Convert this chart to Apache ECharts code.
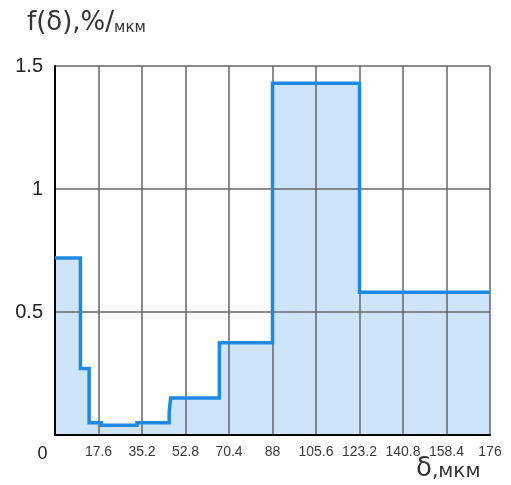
<!DOCTYPE html>
<html>
<head>
<meta charset="utf-8">
<script src="https://cdn.jsdelivr.net/npm/echarts@6/dist/echarts.min.js"></script>
<style>
html,body{margin:0;padding:0;background:#fff;}
#chart{width:511px;height:485px;}
</style>
</head>
<body>
<div id="chart"></div>
<script>
// Step edges (δ, мкм) and density values f(δ), %/мкм; last value repeated for the closing edge
const edges = [0, 10.3, 13.8, 18.8, 33.2, 46.2, 46.8, 66.5, 88, 123.2, 176];
const values = [0.72, 0.27, 0.05, 0.04, 0.05, 0.095, 0.15, 0.375, 1.43, 0.58, 0.58];
const xTickLabels = ['0', '17.6', '35.2', '52.8', '70.4', '88', '105.6', '123.2', '140.8', '158.4', '176'];
const yTickLabels = ['0', '0.5', '1', '1.5'];

const stepData = edges.map((e, i) => [e, values[i]]);

const chart = echarts.init(document.getElementById('chart'), null, {renderer: 'canvas'});
chart.setOption({
  animation: false,
  backgroundColor: '#fff',
  grid: {left: 55, right: 21, top: 66, bottom: 50, containLabel: false},
  xAxis: {
    type: 'value', min: 0, max: 176, interval: 17.6, z: 2,
    axisLine: {show: true, onZero: false, lineStyle: {color: '#000', width: 2}},
    axisTick: {show: false},
    splitLine: {show: true, lineStyle: {color: '#666', width: 1.5}},
    axisLabel: {
      margin: 10, color: '#3a3a3a', fontSize: 14, fontFamily: 'Liberation Sans, Arial',
      formatter: function (v) {
        const idx = Math.round(v / 17.6);
        if (idx === 0) return '{z|' + xTickLabels[0] + '}';
        return xTickLabels[idx];
      },
      rich: {z: {fontSize: 18, color: '#222', fontFamily: 'Liberation Sans, Arial', padding: [0, 25, 0, 0]}}
    }
  },
  yAxis: {
    type: 'value', min: 0, max: 1.5, interval: 0.5, z: 2,
    axisLine: {show: true, lineStyle: {color: '#000', width: 2}},
    axisTick: {show: false},
    splitLine: {show: true, lineStyle: {color: '#666', width: 1.5}},
    axisLabel: {
      margin: 12, color: '#222', fontSize: 20, fontFamily: 'Liberation Sans, Arial',
      formatter: function (v) {
        const idx = Math.round(v / 0.5);
        return idx === 0 ? '' : yTickLabels[idx];
      }
    }
  },
  series: [
    {
      type: 'line', step: 'end', data: stepData, z: 1, symbol: 'none',
      lineStyle: {width: 0, opacity: 0},
      areaStyle: {color: 'rgb(206,228,250)', opacity: 1}
    },
    {
      type: 'line', step: 'end', data: stepData, z: 3, symbol: 'none',
      lineStyle: {width: 3.5, color: '#1e88e5', join: 'miter'}
    }
  ],
  graphic: [
    {
      type: 'text', left: 27, top: 10,
      style: {
        text: '{a|f(δ),%/}{b|мкм}',
        rich: {
          a: {fontSize: 26, fontFamily: 'DejaVu Sans', fill: '#333', verticalAlign: 'bottom'},
          b: {fontSize: 15, fontFamily: 'DejaVu Sans', fill: '#333', verticalAlign: 'bottom'}
        }
      }
    },
    {
      type: 'text', left: 416, top: 456,
      style: {
        text: '{a|δ}{b|,мкм}',
        rich: {
          a: {fontSize: 26, fontFamily: 'DejaVu Sans', fill: '#333', verticalAlign: 'bottom'},
          b: {fontSize: 20, fontFamily: 'DejaVu Sans', fill: '#333', verticalAlign: 'bottom'}
        }
      }
    }
  ]
});
</script>
</body>
</html>
